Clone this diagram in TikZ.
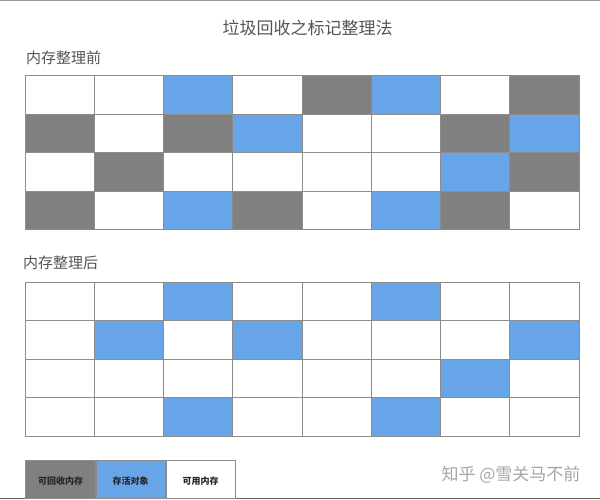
\documentclass[tikz,border=0pt]{standalone}
\usepackage{fontspec}
\setmainfont{Noto Sans CJK SC}
\usepackage{tikz}
\usetikzlibrary{positioning}

\definecolor{dead}{RGB}{128,128,128}
\definecolor{live}{RGB}{104,164,232}
\definecolor{textgrey}{RGB}{85,85,85}

\tikzset{
	cell/.style = {draw = black!45, line width = 0.8pt, minimum width = 69.25pt, minimum height = 38.5pt, inner sep = 0pt},
	heading/.style = {text = textgrey, font = \fontsize{15}{15}\selectfont, inner sep = 0pt},
	legendtext/.style = {text = black!85, font = \fontsize{9}{9}\selectfont\bfseries}
}

\begin{document}
\begin{tikzpicture}[x = 1pt, y = -1pt]
		\useasboundingbox[fill = white] (0,0) rectangle (600,500);
		\draw[black!40, line width = 1pt] (0,0.8) -- (600,0.8);
		\draw[black!60, line width = 1pt] (0,498.5) -- (600,498.5);
		\node[text = textgrey, font = \fontsize{17}{17}\selectfont, inner sep = 0pt] (title) at (307.5,28) {垃圾回收之标记整理法};
		\node[heading, anchor = west] (before) at (26,57.5) {内存整理前};
		\node[heading, anchor = west] (after) at (23,262.5) {内存整理后};
		% before compaction
		\foreach \row [count = \j] in {{white,white,live,white,dead,live,white,dead},{dead,white,dead,live,white,white,dead,live},{white,dead,white,white,white,white,live,dead},{dead,white,live,dead,white,live,dead,white}}
			\foreach \c [count = \i] in \row
				\node[cell, fill = \c] (pre-\j-\i) at ({25+69.25*(\i-0.5)},{75.7+38.5*(\j-0.5)}) {};
		% after compaction
		\foreach \row [count = \j] in {{white,white,live,white,white,live,white,white},{white,live,white,live,white,white,white,live},{white,white,white,white,white,white,live,white},{white,white,live,white,white,live,white,white}}
			\foreach \c [count = \i] in \row
				\node[cell, fill = \c] (post-\j-\i) at ({25+69.25*(\i-0.5)},{282+38.5*(\j-0.5)}) {};
		% legend
		\node[cell, fill = dead, minimum height = 38pt] (key-dead) at (60.5,479.5) {};
		\node[cell, fill = live, minimum height = 38pt, right = 0pt of key-dead] (key-live) {};
		\node[cell, fill = white, minimum height = 38pt, right = 0pt of key-live] (key-free) {};
		\node[legendtext] (lab-dead) at ([yshift = -2pt]key-dead.center) {可回收内存};
		\node[legendtext] (lab-live) at ([yshift = -2pt]key-live.center) {存活对象};
		\node[legendtext] (lab-free) at ([yshift = -2pt]key-free.center) {可用内存};
		\node[text = black!35, font = \fontsize{17}{17}\selectfont, inner sep = 0pt] (mark) at (511,475) {知乎 @雪关马不前};
	\end{tikzpicture}
\end{document}
